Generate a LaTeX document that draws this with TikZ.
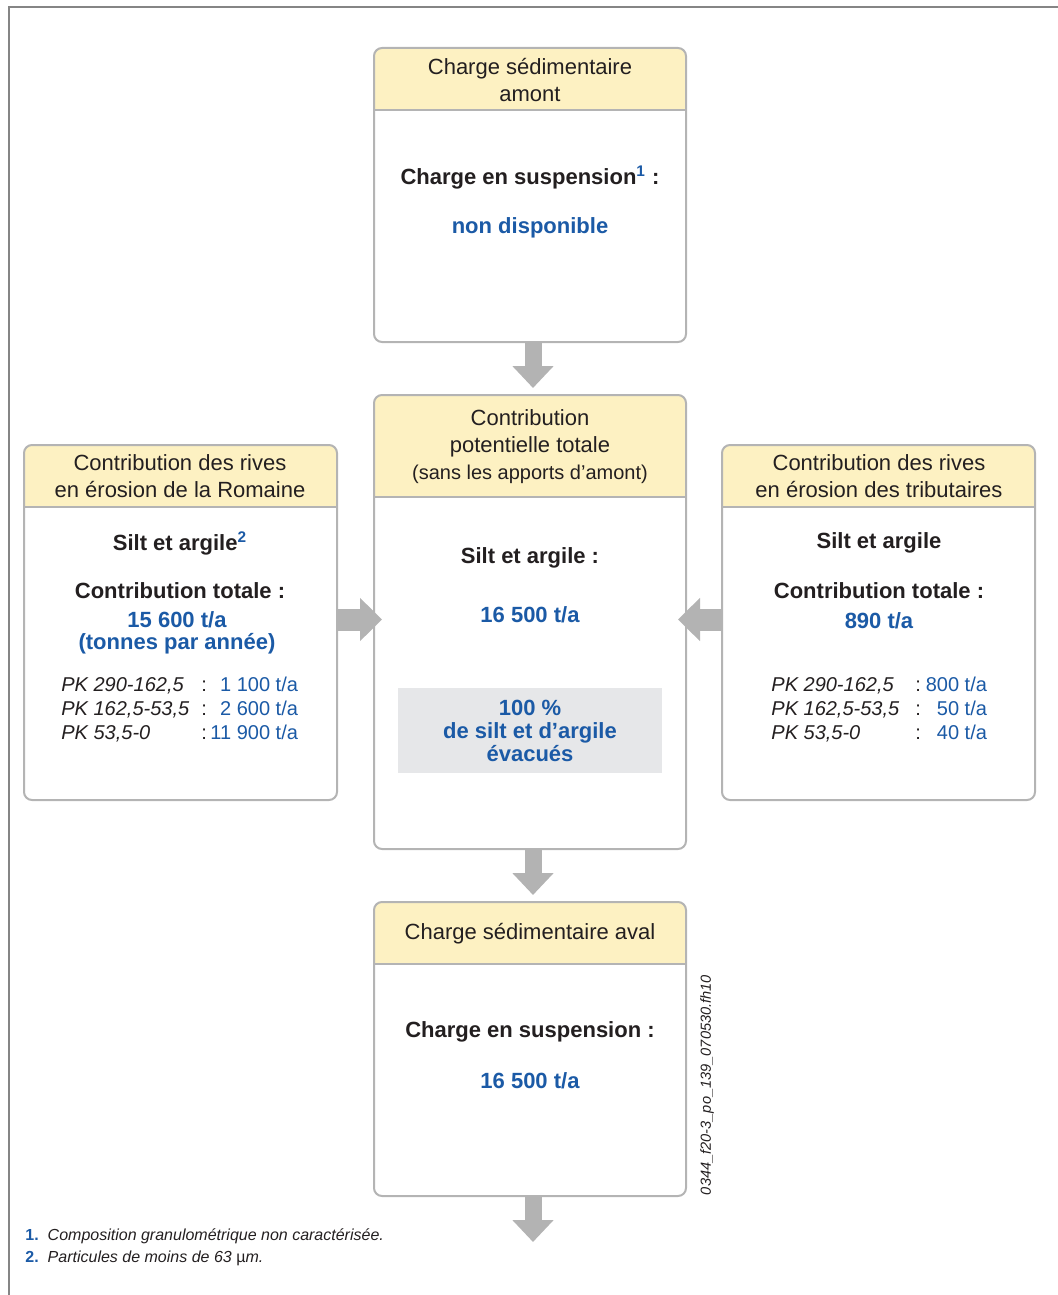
\documentclass[tikz,border=0pt]{standalone}
\usepackage{fontspec}
\setmainfont{Liberation Sans}
\usetikzlibrary{arrows.meta}
\definecolor{textdark}{HTML}{231F20}
\definecolor{valueblue}{HTML}{1B5AA6}
\definecolor{headyellow}{HTML}{FDF1C2}
\definecolor{boxgray}{HTML}{B4B4B4}
\definecolor{arrowgray}{HTML}{B3B3B3}
\definecolor{notegray}{HTML}{E6E7E9}
\colorlet{framegray}{black!48}
\tikzset{
  panelbox/.style={inner sep=0pt, outer sep=0pt, fill=white},
  boxline/.style={draw=boxgray, line width=1pt},
  headtext/.style={font=\fontsize{11}{13.5}\selectfont, text=textdark, align=center},
  bodytext/.style={font=\bfseries\fontsize{11}{13.5}\selectfont, text=textdark, align=center},
  valuetext/.style={font=\bfseries\fontsize{11}{11}\selectfont, text=valueblue, align=center},
  pktable/.style={font=\fontsize{10}{12}\selectfont, text=textdark, inner sep=0pt, anchor=west},
  notetext/.style={font=\itshape\fontsize{8}{11}\selectfont, text=textdark, inner sep=0pt, anchor=west},
  flowdown/.style={draw=arrowgray, line width=8.5pt, -{Triangle[width=20pt, length=11pt]}},
  flowside/.style={draw=arrowgray, line width=11pt, -{Triangle[width=21pt, length=11pt]}},
}
% name, left, top, right, bottom, bottom of the yellow header
\newcommand{\panel}[6]{%
  \node[panelbox, minimum width={(#4-#2)*0.5pt}, minimum height={(#5-#3)*0.5pt}]
    (#1) at ({(#2+#4)/2},{(#3+#5)/2}) {};
  \begin{scope}
    \clip[rounded corners=4pt] (#1.north west) rectangle (#1.south east);
    \fill[headyellow] (#1.north west) rectangle (#4,#6);
  \end{scope}
  \draw[boxline] (#2,#6) -- (#4,#6);
  \draw[boxline, rounded corners=4pt] (#1.north west) rectangle (#1.south east);
}
% one PK row: label width, value width, label, value
\newcommand{\pkrow}[4]{\makebox[#1][l]{\textit{#3}}:\makebox[#2][r]{\textcolor{valueblue}{#4}}}
\newcommand{\notenum}[1]{\textcolor{valueblue}{\upshape\bfseries #1.}\hspace{4.5pt}}

\begin{document}
\begin{tikzpicture}[x=0.5pt, y=-0.5pt]
  \useasboundingbox (0,0) rectangle (1058,1295);
  \draw[framegray, line width=1pt] (9,1295) -- (9,7) -- (1058,7);

  % Boxes
  \panel{amont}{374}{48}{686}{342}{110}
  \panel{contrib}{374}{395}{686}{849}{497}
  \panel{romaine}{24}{445}{337}{800}{507}
  \panel{tribut}{722}{445}{1035}{800}{507}
  \panel{aval}{374}{902}{686}{1196}{964}

  % Upstream load
  \node[headtext] (amont-h) at (530,80) {Charge sédimentaire\\amont};
  \node[bodytext] (amont-l) at (530,178) {Charge en suspension\textsuperscript{\color{valueblue}1} :};
  \node[valuetext] (amont-v) at (530,228) {non disponible};

  % Total potential contribution
  \node[headtext] (contrib-h) at (530,447)
    {Contribution\\potentielle totale\\{\fontsize{10}{13}\selectfont (sans les apports d’amont)}};
  \node[bodytext] (contrib-l) at (530,558) {Silt et argile :};
  \node[valuetext] (contrib-v) at (530,615) {16 500 t/a};
  \node[valuetext, fill=notegray, minimum width=132pt, minimum height=42.5pt,
    font=\bfseries\fontsize{11}{11.5}\selectfont] (evac) at (530,730.5)
    {100 \%\\de silt et d’argile\\évacués};

  % Banks of the Romaine
  \node[headtext] (romaine-h) at (180,476) {Contribution des rives\\en érosion de la Romaine};
  \node[bodytext] (romaine-l) at (180,543) {Silt et argile\textsuperscript{\color{valueblue}2}};
  \node[bodytext] (romaine-t) at (180,591) {Contribution totale :};
  \node[valuetext] (romaine-v) at (177,633) {15 600 t/a\\(tonnes par année)};
  \node[pktable, align=left] (romaine-pk) at (61,710) {%
    \pkrow{70pt}{45.5pt}{PK 290-162,5}{1 100 t/a}\\
    \pkrow{70pt}{45.5pt}{PK 162,5-53,5}{2 600 t/a}\\
    \pkrow{70pt}{45.5pt}{PK 53,5-0}{11 900 t/a}};

  % Banks of the tributaries
  \node[headtext] (tribut-h) at (879,476) {Contribution des rives\\en érosion des tributaires};
  \node[bodytext] (tribut-l) at (879,543) {Silt et argile};
  \node[bodytext] (tribut-t) at (879,591) {Contribution totale :};
  \node[valuetext] (tribut-v) at (879,621) {890 t/a};
  \node[pktable, align=left] (tribut-pk) at (771,710) {%
    \pkrow{72pt}{33pt}{PK 290-162,5}{800 t/a}\\
    \pkrow{72pt}{33pt}{PK 162,5-53,5}{50 t/a}\\
    \pkrow{72pt}{33pt}{PK 53,5-0}{40 t/a}};

  % Downstream load
  \node[headtext] (aval-h) at (530,934) {Charge sédimentaire aval};
  \node[bodytext] (aval-l) at (530,1032) {Charge en suspension :};
  \node[valuetext] (aval-v) at (530,1081) {16 500 t/a};

  % Arrows
  \coordinate (exit) at (533,1242);
  \draw[flowdown, shorten >=3.5pt] ([xshift=1.5pt]amont.south) -- ([xshift=1.5pt]contrib.north);
  \draw[flowdown, shorten >=3.5pt] ([xshift=1.5pt]contrib.south) -- ([xshift=1.5pt]aval.north);
  \draw[flowdown] ([xshift=1.5pt]aval.south) -- (exit);
  \draw[flowside, shorten >=-4pt] ([yshift=1.5pt]romaine.east) -- ([yshift=1.5pt]romaine.east -| contrib.west);
  \draw[flowside, shorten >=-4pt] ([yshift=1.5pt]tribut.west) -- ([yshift=1.5pt]tribut.west -| contrib.east);

  % Notes
  \node[notetext] (note1) at (25,1236) {\notenum{1}Composition granulométrique non caractérisée.};
  \node[notetext] (note2) at (25,1258) {\notenum{2}Particules de moins de 63 \textup{µ}m.};
  \node[font=\itshape\fontsize{7.3}{9}\selectfont, text=textdark, rotate=90, inner sep=0pt]
    (fileref) at (707,1085) {0344\_f20-3\_po\_139\_070530.fh10};
\end{tikzpicture}
\end{document}
